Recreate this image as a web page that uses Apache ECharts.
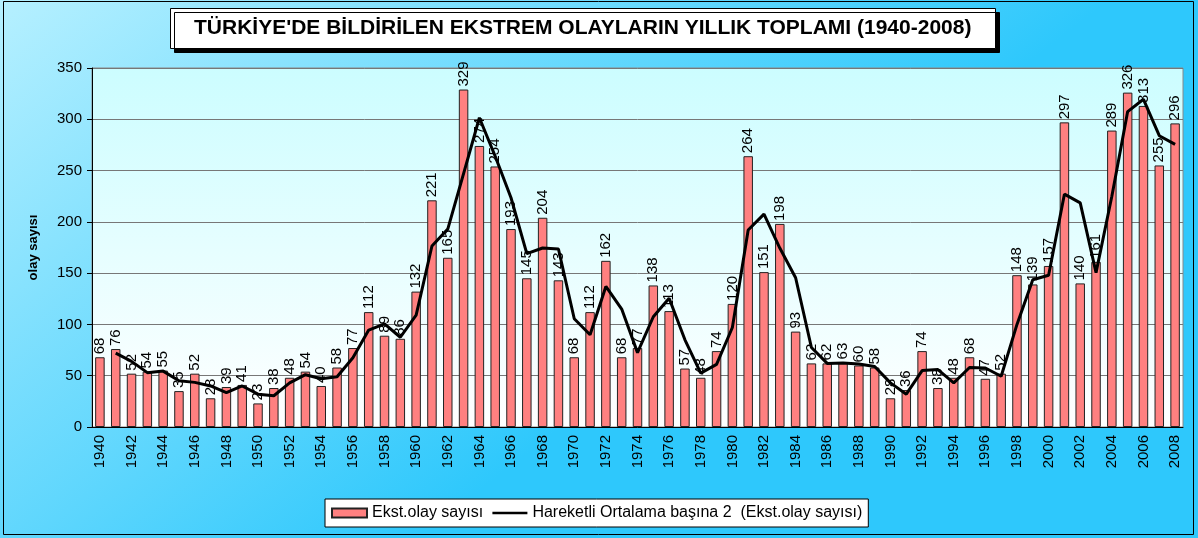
<!DOCTYPE html>
<html>
<head>
<meta charset="utf-8">
<script src="https://cdn.jsdelivr.net/npm/echarts@6/dist/echarts.min.js"></script>
<style>
  html, body { margin: 0; padding: 0; }
  #chart { width: 1198px; height: 538px; }
</style>
</head>
<body>
<div id="chart"></div>
<script>
// yearly totals of extreme events, 1940-2008
const years = []
for (let y = 1940; y <= 2008; y++) years.push(String(y))

const eventCounts = [
  68, 76, 52, 54, 55, 35, 52, 28, 39, 41,
  23, 38, 48, 54, 40, 58, 77, 112, 89, 86,
  132, 221, 165, 329, 274, 254, 193, 145, 204, 143,
  68, 112, 162, 68, 77, 138, 113, 57, 48, 74,
  120, 264, 151, 198, 93, 62, 62, 63, 60, 58,
  28, 36, 74, 38, 48, 68, 47, 52, 148, 139,
  157, 297, 140, 161, 289, 326, 313, 255, 296
]

// 2-period moving average line as plotted
const movingAvg = [
  null, 72, 64, 53, 54.5, 45, 43.5, 40, 33.5, 40,
  32, 30.5, 43, 51, 47, 49, 67.5, 94.5, 100.5, 87.5,
  109, 176.5, 193, 247, 301.5, 264, 223.5, 169, 174.5, 173.5,
  105.5, 90, 137, 115, 72.5, 107.5, 125.5, 85, 52.5, 61,
  97, 192, 207.5, 174.5, 145.5, 77.5, 62, 62.5, 61.5, 59,
  43, 32, 55, 56, 43, 58, 57.5, 49.5, 100, 143.5,
  148, 227, 218.5, 150.5, 225, 307.5, 319.5, 284, 275.5
]

const barName = 'Ekst.olay sayısı'
const lineName = 'Hareketli Ortalama başına 2  (Ekst.olay sayısı)'

const chart = echarts.init(document.getElementById('chart'))

chart.setOption({
  backgroundColor: new echarts.graphic.LinearGradient(0, 0, 0.35, 1, [
    { offset: 0, color: '#b6f0ff' },
    { offset: 1, color: '#2ec8fc' }
  ]),
  textStyle: { fontFamily: 'Arial, "Liberation Sans", sans-serif' },
  graphic: [
    {
      type: 'rect',
      shape: { x: 3.5, y: 1.5, width: 1190, height: 533 },
      style: { fill: 'none', stroke: '#000', lineWidth: 1 },
      silent: true
    }
  ],
  title: {
    text: "TÜRKİYE'DE BİLDİRİLEN EKSTREM OLAYLARIN YILLIK TOPLAMI (1940-2008)",
    left: 170,
    top: 8,
    padding: [10, 24, 10, 24],
    backgroundColor: '#fff',
    borderColor: '#000',
    borderWidth: 1,
    shadowColor: '#000',
    shadowOffsetX: 4,
    shadowOffsetY: 4,
    textStyle: {
      fontSize: 21,
      fontWeight: 'bold',
      color: '#000',
      fontFamily: '"Liberation Sans", Arial, sans-serif'
    }
  },
  legend: {
    left: 325,
    top: 499,
    padding: [6, 6, 6, 6],
    backgroundColor: '#fff',
    borderColor: '#000',
    borderWidth: 1,
    itemGap: 8,
    itemWidth: 35,
    itemHeight: 9,
    textStyle: { fontSize: 16, color: '#000' },
    data: [
      { name: barName, icon: 'rect' },
      {
        name: lineName,
        itemStyle: { color: 'rgba(0,0,0,0)', borderWidth: 0 },
        lineStyle: { width: 2.5, color: '#000' }
      }
    ]
  },
  grid: {
    left: 92,
    right: 15,
    top: 68,
    bottom: 111,
    show: true,
    borderColor: '#888',
    borderWidth: 1,
    backgroundColor: new echarts.graphic.LinearGradient(0, 0, 0, 1, [
      { offset: 0, color: '#ccfdff' },
      { offset: 1, color: '#ffffff' }
    ])
  },
  xAxis: {
    type: 'category',
    data: years,
    boundaryGap: true,
    axisLine: { lineStyle: { color: '#000', width: 1 } },
    axisTick: { interval: 0, length: 5, lineStyle: { color: '#000' } },
    axisLabel: {
      interval: 1,
      rotate: 90,
      fontSize: 15,
      color: '#000',
      margin: 8
    }
  },
  yAxis: {
    type: 'value',
    min: 0,
    max: 350,
    interval: 50,
    name: 'olay sayısı',
    nameLocation: 'middle',
    nameGap: 52,
    nameTextStyle: { fontSize: 13, fontWeight: 'bold', color: '#000' },
    axisLine: { show: true, lineStyle: { color: '#000' } },
    axisTick: { show: true, length: 5, lineStyle: { color: '#000' } },
    axisLabel: { fontSize: 15, color: '#000', margin: 10 },
    splitLine: { lineStyle: { color: '#777', width: 1 } }
  },
  series: [
    {
      name: barName,
      type: 'bar',
      data: eventCounts,
      barWidth: '60%',
      itemStyle: {
        color: '#ff8080',
        borderColor: '#222',
        borderWidth: 1
      },
      label: {
        show: true,
        position: 'top',
        rotate: 90,
        align: 'left',
        verticalAlign: 'middle',
        distance: 3,
        fontSize: 15,
        color: '#000'
      }
    },
    {
      name: lineName,
      type: 'line',
      data: movingAvg,
      symbol: 'none',
      smooth: false,
      z: 5,
      lineStyle: { color: '#000', width: 3 },
      itemStyle: { color: '#000' }
    }
  ]
})

window.addEventListener('resize', () => chart.resize())
</script>
</body>
</html>
